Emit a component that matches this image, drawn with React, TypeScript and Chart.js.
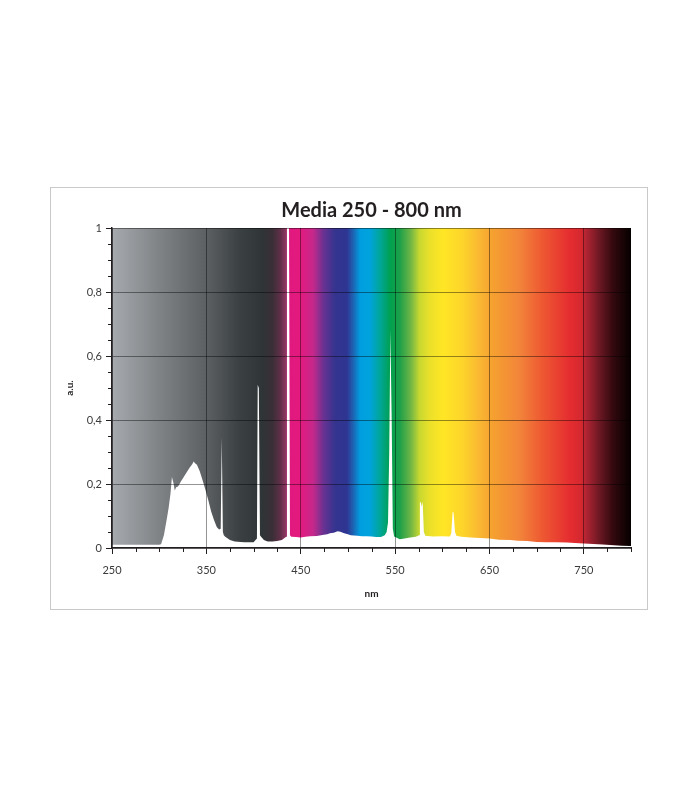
import React, { useEffect, useRef } from 'react';
import { Chart, registerables } from 'chart.js';

Chart.register(...registerables);

const TITLE = 'Media 250 - 800 nm';
const X_TITLE = 'nm';
const Y_TITLE = 'a.u.';

const X_TICKS = [250, 350, 450, 550, 650, 750];
const Y_TICKS = [0, 0.2, 0.4, 0.6, 0.8, 1];
const Y_TICK_LABELS = ['0', '0,2', '0,4', '0,6', '0,8', '1'];

// spectrum (white area)
const WAVELENGTH = [
  250, 300, 302, 305, 308, 310, 312, 313.5, 315, 316.5, 318, 320, 323, 326, 329, 332, 335, 336.5,
  338, 340, 343, 346, 349, 352, 355, 358, 361, 363.5, 365.2, 366.3, 367.5, 368.5, 370, 375, 380,
  390, 400, 403.6, 404.4, 405.6, 406.8, 408, 411, 415, 420, 425, 430, 434.6, 435.4, 437.6, 438.6,
  440, 445, 450, 455, 460, 467, 473, 478, 481, 485, 489, 492, 496, 500, 503, 510, 515, 520, 525,
  530, 535, 539, 541, 542.5, 543.8, 545, 545.5, 546.4, 547.6, 549, 555, 560, 566, 572, 575.5,
  576.3, 577.5, 578.3, 579.2, 580.5, 582, 590, 600, 608, 609.5, 611, 612, 613.5, 615, 620, 630,
  640, 650, 660, 672, 680, 690, 700, 710, 720, 732, 745, 760, 770, 778, 790, 800,
];
const INTENSITY = [
  0.01, 0.01, 0.012, 0.04, 0.09, 0.125, 0.17, 0.222, 0.205, 0.18, 0.19, 0.192, 0.208, 0.222, 0.236, 0.25, 0.262, 0.27,
  0.265, 0.26, 0.24, 0.212, 0.182, 0.15, 0.115, 0.088, 0.066, 0.058, 0.06, 0.346, 0.05, 0.04, 0.035, 0.025, 0.02,
  0.018, 0.018, 0.03, 0.51, 0.5, 0.04, 0.035, 0.025, 0.02, 0.02, 0.022, 0.025, 0.035, 1.0, 1.0, 0.04,
  0.035, 0.034, 0.033, 0.035, 0.037, 0.0375, 0.041, 0.043, 0.046, 0.048, 0.052, 0.051, 0.046, 0.043, 0.04, 0.038, 0.037, 0.037, 0.036,
  0.034, 0.034, 0.04, 0.05, 0.08, 0.3, 0.683, 0.683, 0.4, 0.06, 0.036, 0.027, 0.03, 0.033, 0.035, 0.04,
  0.145, 0.14, 0.13, 0.145, 0.05, 0.038, 0.036, 0.037, 0.036, 0.045, 0.113, 0.11, 0.05, 0.038, 0.035, 0.033,
  0.031, 0.03, 0.026, 0.025, 0.023, 0.022, 0.019, 0.018, 0.018, 0.017, 0.015, 0.0125, 0.011, 0.009, 0.007, 0.006,
];

// background colour band (visible spectrum)
const GRADIENT_NM = [
  250, 300, 350, 385, 410, 420, 428, 434, 437, 449, 463, 474, 486, 499, 505, 513, 523, 534, 545, 555,
  566, 576, 587, 601, 622, 640, 654, 682, 705, 735, 748, 752, 767, 781, 800,
];
const GRADIENT_COLORS = [
  '#a6a9ad', '#808386', '#5c6063', '#3b4042', '#2f3436', '#3a2f37', '#5e2f47', '#8c3760', '#e0197e', '#e4197e',
  '#c7288b', '#6a3292', '#35348f', '#2e3592', '#1f5fb0', '#009edf', '#00a3dd', '#00a69a', '#00a04f', '#1ea04a',
  '#6ab445', '#c8d830', '#ece12a', '#ffe625', '#fdd42b', '#f9b632', '#f5a030', '#f2843a', '#ee5a32', '#e52d30',
  '#d4282f', '#b32433', '#6a1822', '#33090e', '#050000',
];

const FONT = 'Lato, "Open Sans", sans-serif';

const decorPlugin = {
  id: 'decor',
  beforeDraw(chart: any) {
    const { ctx, chartArea } = chart;
    const { left, right, top } = chartArea;
    ctx.save();
    ctx.fillStyle = '#ffffff';
    ctx.fillRect(0, 0, chart.width, chart.height);
    ctx.strokeStyle = '#c9c9c9';
    ctx.lineWidth = 1;
    ctx.strokeRect(Math.round(left - 62) + 0.5, Math.round(top - 41) + 0.5, 597, 422);
    ctx.fillStyle = '#231f20';
    ctx.font = `bold 20px ${FONT}`;
    ctx.textAlign = 'center';
    ctx.textBaseline = 'middle';
    ctx.fillText(TITLE, (left + right) / 2, top - 17);
    ctx.restore();
  },
  beforeDatasetsDraw(chart: any) {
    const { ctx, chartArea, scales } = chart;
    const { left, right, top, bottom } = chartArea;
    const x = scales.x;
    const g = ctx.createLinearGradient(left, 0, right, 0);
    GRADIENT_NM.forEach((nm, i) => {
      const p = (x.getPixelForValue(nm) - left) / (right - left);
      g.addColorStop(Math.min(1, Math.max(0, p)), GRADIENT_COLORS[i]);
    });
    ctx.save();
    ctx.fillStyle = g;
    ctx.fillRect(left, top, right - left, bottom - top);
    ctx.restore();
  },
  afterDraw(chart: any) {
    const { ctx, chartArea, scales } = chart;
    const { left, bottom } = chartArea;
    ctx.save();
    ctx.strokeStyle = '#231f20';
    ctx.lineWidth = 1;
    ctx.beginPath();
    for (let nm = 250; nm <= 800; nm += 25) {
      if (X_TICKS.includes(nm)) continue;
      const px = Math.round(scales.x.getPixelForValue(nm)) + 0.5;
      ctx.moveTo(px, bottom);
      ctx.lineTo(px, bottom + 4);
    }
    for (let k = 0; k <= 20; k++) {
      if (k % 4 === 0) continue;
      const py = Math.round(scales.y.getPixelForValue(k * 0.05)) + 0.5;
      ctx.moveTo(left - 4, py);
      ctx.lineTo(left, py);
    }
    ctx.stroke();
    ctx.restore();
  },
};

export default function App() {
  const ref = useRef<HTMLCanvasElement | null>(null);
  useEffect(() => {
    if (!ref.current) return;
    const chart = new Chart(ref.current, {
      type: 'line',
      data: {
        datasets: [
          {
            data: WAVELENGTH.map((w, i) => ({ x: w, y: INTENSITY[i] })),
            fill: 'origin',
            backgroundColor: '#ffffff',
            borderColor: 'rgba(0,0,0,0)',
            borderWidth: 0,
            pointRadius: 0,
            tension: 0,
          },
        ],
      },
      options: {
        animation: false,
        responsive: false,
        layout: { padding: { left: 62, right: 69, top: 228, bottom: 192 } },
        plugins: { legend: { display: false }, tooltip: { enabled: false }, title: { display: false } },
        scales: {
          x: {
            type: 'linear',
            min: 250,
            max: 800,
            afterBuildTicks: (s: any) => {
              s.ticks = X_TICKS.map((v) => ({ value: v }));
            },
            afterFit: (s: any) => {
              s.height = 60;
            },
            grid: { z: 1, color: 'rgba(0,0,0,0.42)', lineWidth: 1, tickColor: '#231f20', tickLength: 6 },
            border: { z: 2, color: '#231f20', width: 1.5 },
            ticks: {
              autoSkip: false,
              maxRotation: 0,
              padding: 10,
              color: '#3a3a3a',
              font: { family: FONT, size: 11 },
              callback: (v: any) => String(v),
            },
            title: { display: true, text: X_TITLE, color: '#231f20', font: { family: FONT, size: 10, weight: 'bold' }, padding: 8 },
          },
          y: {
            type: 'linear',
            min: 0,
            max: 1,
            afterBuildTicks: (s: any) => {
              s.ticks = Y_TICKS.map((v) => ({ value: v }));
            },
            afterFit: (s: any) => {
              s.width = 50;
            },
            grid: { z: 1, color: 'rgba(0,0,0,0.42)', lineWidth: 1, tickColor: '#231f20', tickLength: 6 },
            border: { z: 2, color: '#231f20', width: 1.5 },
            ticks: {
              autoSkip: false,
              padding: 4,
              color: '#3a3a3a',
              font: { family: FONT, size: 11 },
              callback: (_v: any, i: number) => Y_TICK_LABELS[i],
            },
            title: { display: true, text: Y_TITLE, color: '#231f20', font: { family: FONT, size: 10, weight: 'bold' }, padding: 2 },
          },
        },
      },
      plugins: [decorPlugin],
    } as any);
    return () => chart.destroy();
  }, []);
  return (
    <div style={{ position: 'absolute', left: 0, top: 0, width: 700, height: 800 }}>
      <canvas ref={ref} width={700} height={800} />
    </div>
  );
}
